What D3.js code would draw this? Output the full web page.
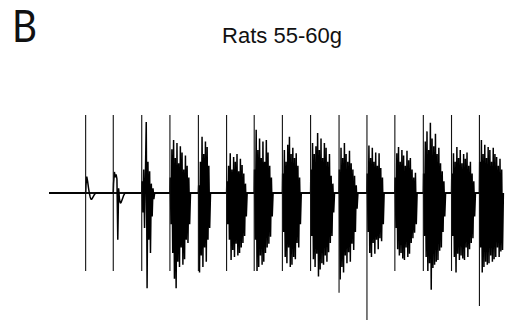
<!DOCTYPE html>
<html>
<head>
<meta charset="utf-8">
<script src="https://cdn.jsdelivr.net/npm/d3@7"></script>
<style>
  html, body { margin: 0; padding: 0; background: #fff; }
  svg { display: block; }
</style>
</head>
<body>
<div id="chart"></div>
<script>
// ---- data (time in ms, amplitude in arbitrary units; stimulus artifact = ±100) ----
const panelLabel = "B";
const title = "Rats 55-60g";
const timeDomain = [0, 1600];
const stimTimes = [130, 228, 329, 429, 530, 630, 728, 828, 928, 1029, 1128, 1227, 1328, 1428, 1527];
const stimTop = [100, 100, 100, 100, 100, 100, 100, 100, 100, 100, 100, 100, 100, 100, 100];
const stimBottom = [-100, -100, -100, -100, -100, -100, -100, -100, -100, -128, -163, -100, -100, -100, -145];
const sampleStep = 3; // ms between successive samples within a response
// response samples following each stimulus
const burst1 = [10, 21, 15, 7, 0, -5, -8, -8, -6, -4, -2, -1, 0];
const burst2 = [12, 27, 20, 24, 18, -60, 6, -8, -13, -12, -9, -6, -3, -1, 0];
const burst3 = [15, -25, 30, -45, 22, 91, -122, 40, -60, 28, -77, 12, -30, 6, -8];
const burst4 = [20, -40, 56, -77, 68, -110, 45, -122, 64, -88, 38, -95, 60, -70, 52, -92, 30, -85, 48, -60, 35, -64, 20, -40];
const burst5 = [10, -102, 40, -80, 72, -95, 50, -70, 66, -88, 59, -60, 35, -45];
const burst6 = [15, -40, 35, -60, 51, -86, 30, -73, 46, -82, 40, -65, 50, -80, 28, -77, 44, -70, 36, -64, 25, -55, 12, -30];
const burst7 = [30, -60, 81, -100, 55, -95, 70, -80, 45, -92, 66, -88, 40, -77, 68, -70, 52, -65, 35, -56, 20, -30];
const burst8 = [25, -50, 55, -82, 40, -90, 62, -70, 72, -95, 50, -92, 58, -82, 45, -85, 51, -64, 35, -70, 20, -40];
const burst9 = [30, -55, 64, -85, 50, -95, 60, -78, 77, -107, 55, -98, 70, -90, 45, -92, 64, -80, 58, -88, 40, -76, 50, -64, 22, -55, 12, -25];
const burst10 = [30, -111, 58, -95, 45, -102, 64, -80, 50, -90, 40, -76, 54, -88, 38, -65, 30, -73, 22, -50, 10, -20];
const burst11 = [25, -50, 61, -77, 45, -82, 58, -64, 40, -78, 52, -60, 35, -72, 51, -58, 32, -62, 20, -40];
const burst12 = [20, -45, 51, -72, 59, -80, 40, -77, 55, -84, 48, -86, 35, -70, 54, -82, 42, -78, 45, -64, 30, -58, 20, -51, 26, -40];
const burst13 = [25, -55, 66, -82, 79, -100, 55, -90, 90, -124, 70, -96, 60, -92, 76, -88, 50, -86, 58, -74, 38, -70, 28, -50, 15, -30];
const burst14 = [25, -55, 51, -82, 40, -102, 59, -78, 45, -86, 55, -80, 38, -84, 50, -86, 44, -70, 52, -82, 35, -72, 40, -64, 25, -58, 15, -30];
const burst15 = [40, -70, 68, -102, 50, -95, 62, -88, 45, -92, 59, -90, 55, -80, 40, -88, 58, -85, 50, -82, 46, -70, 35, -82, 44, -75, 30, -73];
const bursts = [burst1, burst2, burst3, burst4, burst5, burst6, burst7, burst8, burst9, burst10,
                burst11, burst12, burst13, burst14, burst15];

// ---- layout ----
const W = 505, H = 320;
const svg = d3.select("#chart").append("svg").attr("width", W).attr("height", H);

const x = d3.scaleLinear().domain(timeDomain).range([49, 500]);
const y = d3.scaleLinear().domain([-100, 100]).range([271, 115]);

// baseline (resting level)
svg.append("line")
  .attr("x1", x(timeDomain[0])).attr("x2", x(timeDomain[1]))
  .attr("y1", y(0)).attr("y2", y(0))
  .attr("stroke", "#111")
  .attr("stroke-width", 1.8);

// build trace points from data
const pts = [[timeDomain[0], 0]];
stimTimes.forEach((t, k) => {
  pts.push([t, 0]);
  bursts[k].forEach((v, i) => pts.push([t + 1 + i * sampleStep, v]));
  pts.push([t + 1 + bursts[k].length * sampleStep, 0]);
});
if (pts[pts.length - 1][0] < timeDomain[1]) pts.push([timeDomain[1], 0]);

const line = d3.line().x(d => x(d[0])).y(d => y(d[1]));

svg.append("path")
  .datum(pts)
  .attr("fill", "none")
  .attr("stroke", "#000")
  .attr("stroke-width", 1.5)
  .attr("stroke-linejoin", "bevel")
  .attr("d", line);

// stimulus artifacts
svg.append("g").selectAll("line")
  .data(stimTimes)
  .join("line")
  .attr("x1", d => x(d)).attr("x2", d => x(d))
  .attr("y1", (d, i) => y(stimTop[i]))
  .attr("y2", (d, i) => y(stimBottom[i]))
  .attr("stroke", "#111")
  .attr("stroke-width", 1.1);

// texts
svg.append("text")
  .attr("x", 12).attr("y", 42)
  .attr("font-family", "Lato, 'Open Sans', sans-serif")
  .attr("font-size", 44)
  .attr("textLength", 25)
  .attr("lengthAdjust", "spacingAndGlyphs")
  .attr("fill", "#111")
  .text(panelLabel);

svg.append("text")
  .attr("x", 282).attr("y", 43)
  .attr("text-anchor", "middle")
  .attr("font-family", "'Liberation Sans', Arial, sans-serif")
  .attr("font-size", 22)
  .attr("fill", "#111")
  .text(title);
</script>
</body>
</html>
